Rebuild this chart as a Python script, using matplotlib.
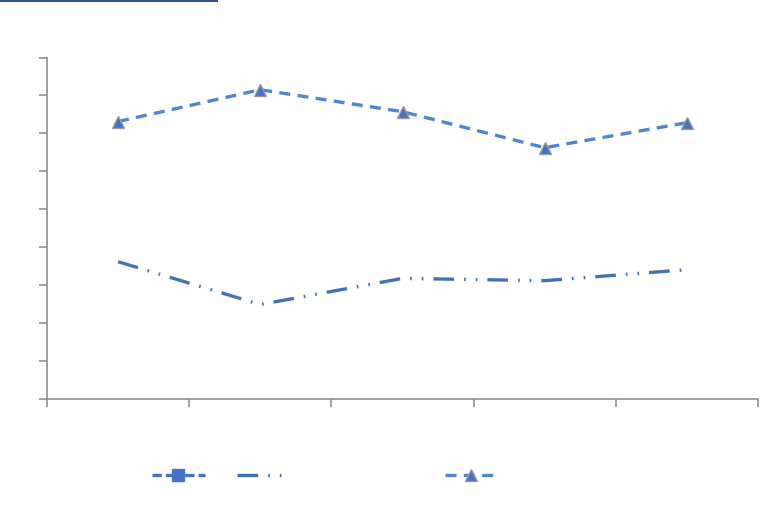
import numpy as np
import matplotlib.pyplot as plt
from matplotlib.patches import Rectangle

# five categories, values on a 0-9 scale (axis has no labels)
categories = ["1", "2", "3", "4", "5"]
serie_cuadro = [np.nan, np.nan, np.nan, np.nan, np.nan]   # only shows in the legend
serie_raya = [3.61, 2.48, 3.17, 3.11, 3.40]
serie_triangulo = [7.31, 8.15, 7.57, 6.62, 7.28]

x = np.arange(len(categories)) + 0.5

fig = plt.figure(figsize=(7.8, 5.1), dpi=100)
ax = fig.add_axes([47/780, 1 - 399.5/510, (758 - 47)/780, (399.5 - 58.5)/510])

# blue bar at the top left
fig.patches.append(Rectangle((0, 1 - 2.5/510), 218/780, 2.5/510, transform=fig.transFigure,
                             facecolor="#2E4E8E", edgecolor="none"))

l1, = ax.plot(x, serie_cuadro, lw=2.4, color="#4472C4", marker="s", markersize=8.5,
              markerfacecolor="#4472C4", markeredgecolor="#4472C4",
              dashes=(2.8, 1.2, 2.8, 1.2, 0.6, 1.2))
l2, = ax.plot(x, serie_raya, lw=2.4, color="#4373B6",
              dashes=(6.2, 3.0, 0.5, 3.0, 0.5, 3.0))
l3, = ax.plot(x, serie_triangulo, lw=2.4, color="#4F86D3", dashes=(3.3, 2.2),
              marker="^", markersize=8.5, markerfacecolor="#4472C4",
              markeredgecolor="#9A9A9A", markeredgewidth=1.0)

ax.set_xlim(0, 5)
ax.set_ylim(0, 9)
ax.set_xticks(np.arange(0, 6))
ax.set_yticks(np.arange(0, 10))
ax.set_xticklabels([])
ax.set_yticklabels([])
ax.spines["top"].set_visible(False)
ax.spines["right"].set_visible(False)
for s in ["left", "bottom"]:
    ax.spines[s].set_color("#868686")
    ax.spines[s].set_linewidth(1.1)
ax.tick_params(axis="both", direction="out", length=5.5, width=1.1, color="#868686")

leg1 = fig.legend([l1, l2], ["", ""], loc="center left", bbox_to_anchor=(152/780, 33/510),
                  ncol=2, frameon=False, handlelength=3.8, handletextpad=0,
                  columnspacing=2.3, borderpad=0, borderaxespad=0, numpoints=1)
leg2 = fig.legend([l3], [""], loc="center left", bbox_to_anchor=(445/780, 33/510),
                  frameon=False, handlelength=3.8, handletextpad=0,
                  borderpad=0, borderaxespad=0, numpoints=1)

fig.savefig("out.png", dpi=100)
